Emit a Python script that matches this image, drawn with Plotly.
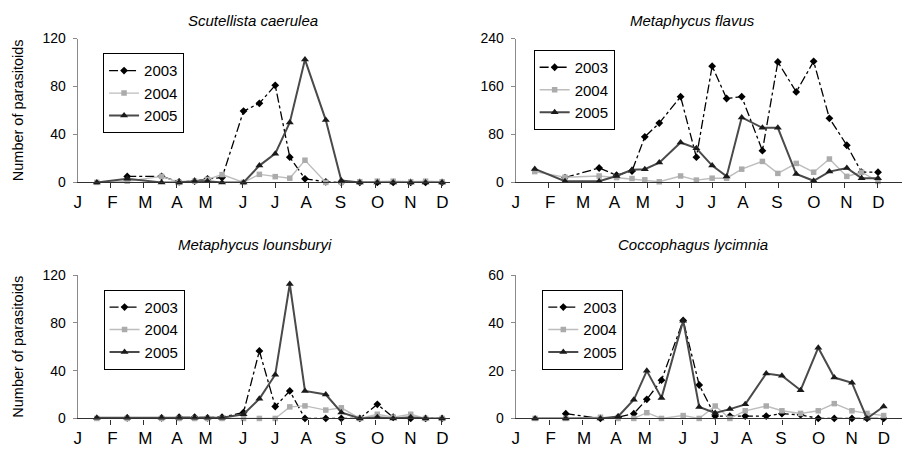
import plotly.graph_objects as go

# ---------------- data ----------------
MONTHS = ["J", "F", "M", "A", "M", "J", "J", "A", "S", "O", "N", "D"]
MONTH_POS = [0.0, 1.05, 2.05, 3.005, 3.87, 5.005, 5.97, 6.92, 7.95, 9.08, 10.07, 11.04]
MONTH_TICKS = [1, 2, 3, 4, 5, 6, 7, 8, 9, 10, 11]
SAMPLE_POS = [0.58, 1.5, 2.54, 3.07, 3.54, 3.93, 4.37, 5.02, 5.5, 5.98, 6.42, 6.88,
              7.51, 7.98, 8.54, 9.07, 9.55, 10.08, 10.53, 11.03]
YEARS = ["2003", "2004", "2005"]

scut_2003 = [None, 5, 5, 0.5, 1, 3, 4, 59.5, 66, 81, 21, 3, 0.5, 0, 0, 0, 0, 0, 0, 0]
scut_2004 = [0, 1, 5, 0, 1, 2.5, 6.5, 0, 6.7, 4.8, 3.5, 18.5, 0, 0, 0.5, 1, 1, 0.5, 1, 0.5]
scut_2005 = [0, 3, 0, 0, 1, 1, 0, 0, 14, 24, 50, 102.5, 52, 1.5, 0, 0, 0, 0, 0, 0]

flav_2003 = [None, 8, 24, 12, 19, 76, 99, 143, 42, 194, 140, 143, 53, 201, 151, 202, 107, 62, 17, 17]
flav_2004 = [18, 8.6, 10.7, 8, 6.4, 4.3, 1, 10.7, 3.8, 7, 7, 22, 35, 15, 31.7, 17, 39, 10, 17, 1.6]
flav_2005 = [22.5, 2, 2, 10.7, 21, 22, 33, 66.6, 57, 28, 10, 108.5, 91, 91, 14, 2.7, 18, 24, 7, 7]

loun_2003 = [None, 0.5, 0.5, 1, 1, 0.5, 1, 5, 56.5, 10, 23, 0, 0, 0, 0, 11.8, 1, 0, 0, 0]
loun_2004 = [0, 0, 0, 0, 0, 0, 0, 0, 0, 0, 9.7, 10.5, 7, 8.9, 0, 3.5, 1, 3.5, 0, 0]
loun_2005 = [0.5, 0.5, 0.5, 0.5, 0.5, 0.5, 0.5, 3.5, 16.4, 36.6, 112.5, 23, 20, 5, 0, 1, 0, 1, 0, 0]

cocc_2003 = [None, 2, 0, 0.5, 2, 8, 16, 41, 14, 1, 1, 1, 1, 2, 1.5, 0, 0, 0, 0, 0]
cocc_2004 = [0, 0, 0.5, 0, 0, 2.4, 0, 1.2, 0, 5.2, 0, 3.2, 5.2, 3.2, 2.1, 3.2, 6.2, 3.2, 2.1, 1.2]
cocc_2005 = [0, 0, 0, 0.8, 7.8, 19.9, 8.6, 40.9, 4.8, 2.3, 3.9, 5.9, 18.8, 17.9, 11.8, 29.6, 17.1, 14.9, 0, 5]

TITLES = ["Scutellista caerulea", "Metaphycus flavus", "Metaphycus lounsburyi", "Coccophagus lycimnia"]
SERIES = [
    [scut_2003, scut_2004, scut_2005],
    [flav_2003, flav_2004, flav_2005],
    [loun_2003, loun_2004, loun_2005],
    [cocc_2003, cocc_2004, cocc_2005],
]
Y_MAX = [120, 240, 120, 60]
Y_STEP = [40, 80, 40, 20]

# ---------------- layout ----------------
W, H = 902, 458
FONT = "Liberation Sans, Arial, sans-serif"

def px_x(p):
    return p / W

def px_y(p):
    return 1 - p / H

X_DOM = [[px_x(74), px_x(448)], [px_x(514), px_x(902)], [px_x(74), px_x(448)], [px_x(514), px_x(902)]]
Y_DOM = [[px_y(180.7), px_y(31.7)], [px_y(180.7), px_y(31.7)],
         [px_y(425.3), px_y(276.7)], [px_y(425.3), px_y(276.7)]]
X_MAX = [11.27, 11.76, 11.27, 11.58]
LEGEND_POS = [(99.5, 47), (532, 43.5), (100, 292), (540.7, 292)]
TITLE_POS = [(250, 13), (692, 13), (252, 245), (692, 245)]

STYLES = [
    dict(mode="lines+markers", line=dict(color="#000000", width=1.3, dash="dashdot"),
         marker=dict(symbol="diamond", size=6, color="#000000")),
    dict(mode="lines+markers", line=dict(color="#bdbdbd", width=1.4),
         marker=dict(symbol="square", size=5.5, color="#ababab")),
    dict(mode="lines+markers", line=dict(color="#4a4a4a", width=2),
         marker=dict(symbol="triangle-up", size=7, color="#1a1a1a")),
]

fig = go.Figure()
layout = dict(width=W, height=H, margin=dict(l=0, r=0, t=0, b=0),
              paper_bgcolor="white", plot_bgcolor="white",
              font=dict(family=FONT, color="black"), annotations=[])

for i in range(4):
    sfx = "" if i == 0 else str(i + 1)
    for j, year in enumerate(YEARS):
        fig.add_trace(go.Scatter(
            x=SAMPLE_POS, y=SERIES[i][j], name=year,
            xaxis="x" + sfx, yaxis="y" + sfx, legend="legend" + sfx,
            cliponaxis=False, connectgaps=False, **STYLES[j]))
    layout["xaxis" + sfx] = dict(
        domain=X_DOM[i], range=[0, X_MAX[i]], anchor="y" + sfx,
        showgrid=False, zeroline=False, showline=True, linecolor="#303030", linewidth=1.2,
        tickmode="array", tickvals=MONTH_POS, ticktext=MONTHS, ticks="",
        tickfont=dict(size=17, family=FONT, color="black"), ticklabelstandoff=4,
        minor=dict(tickmode="array", tickvals=MONTH_TICKS, ticks="outside", ticklen=5,
                   tickcolor="#303030", tickwidth=1, showgrid=False),
    )
    layout["yaxis" + sfx] = dict(
        domain=Y_DOM[i], range=[0, Y_MAX[i]], anchor="x" + sfx,
        showgrid=False, zeroline=False, showline=True, linecolor="#8a8a8a", linewidth=1.2,
        tickmode="linear", tick0=0, dtick=Y_STEP[i], ticks="outside", ticklen=4,
        tickcolor="#8a8a8a", tickfont=dict(size=14, family=FONT, color="black"),
        ticklabelstandoff=4,
    )
    lx, ly = LEGEND_POS[i]
    layout["legend" + sfx] = dict(
        x=px_x(lx), y=px_y(ly), xanchor="left", yanchor="top",
        bgcolor="white", bordercolor="black", borderwidth=1,
        font=dict(size=15, family=FONT, color="black"), tracegroupgap=0,
        itemwidth=30,
    )
    tx, ty = TITLE_POS[i]
    layout["annotations"].append(dict(
        text="<i>%s</i>" % TITLES[i], x=px_x(tx), y=px_y(ty), xref="paper", yref="paper",
        xanchor="center", yanchor="middle", showarrow=False,
        font=dict(size=15, family=FONT, color="black")))

for cy in (106, 351):
    layout["annotations"].append(dict(
        text="Number of parasitoids", x=px_x(14), y=px_y(cy), xref="paper", yref="paper",
        xanchor="center", yanchor="middle", showarrow=False, textangle=-90,
        font=dict(size=14.5, family=FONT, color="black")))

fig.update_layout(**layout)
fig.write_html("out.html")
